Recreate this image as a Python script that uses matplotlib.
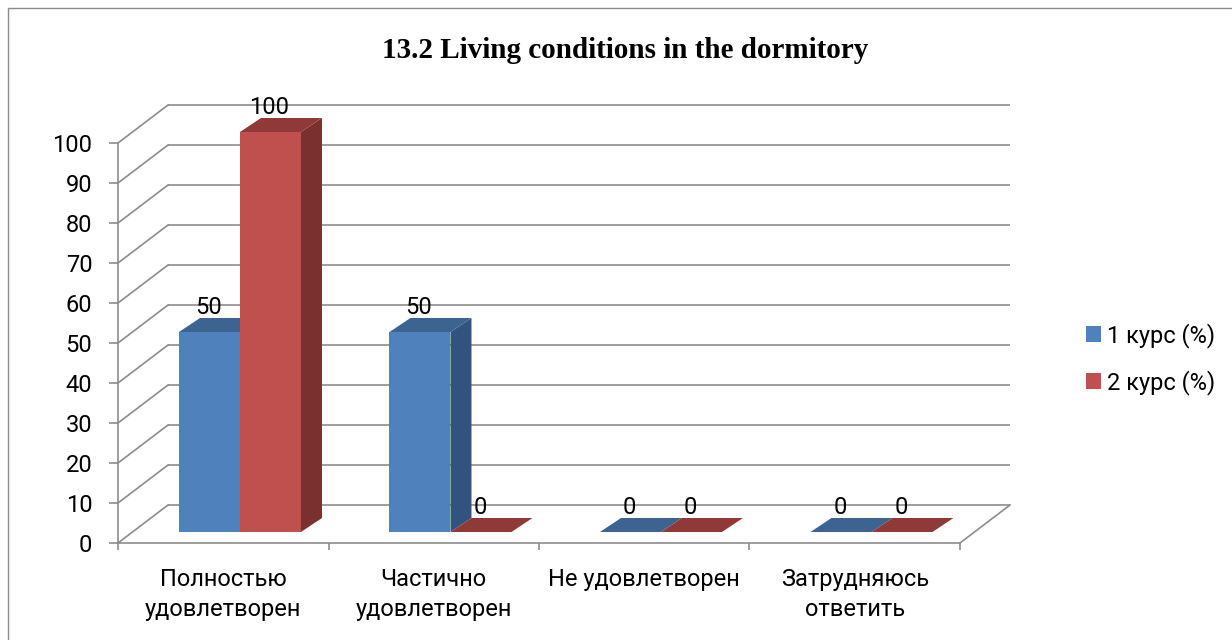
import matplotlib
matplotlib.use("Agg")
import matplotlib.pyplot as plt
from matplotlib.patches import Polygon, Patch, Rectangle

# ---------------- data ----------------
categories = ["Полностью\nудовлетворен", "Частично\nудовлетворен",
              "Не удовлетворен", "Затрудняюсь\nответить"]
series_names = ["1 курс (%)", "2 курс (%)"]
course1 = [50, 50, 0, 0]
course2 = [100, 0, 0, 0]
y_ticks = [0, 10, 20, 30, 40, 50, 60, 70, 80, 90, 100]
title = "13.2 Living conditions in the dormitory"

# ---------------- style ----------------
W, H, DPI = 1232, 640, 100
FONT = ["Roboto", "DejaVu Sans"]
FS = 17
GRID = "#8c8c8c"
front_cols = ["#4F81BD", "#C0504D"]
top_cols = ["#3D6491", "#8F3A38"]
side_cols = ["#32537D", "#7A302E"]

PX_CAT = 210.5          # pixels per category
PX_UNIT = 4.0           # pixels per value unit
X0, Y0 = 118, 543       # pixel of origin
X1, Y1 = 1013, 100      # pixel of top-right of axes
DX, DY = 50 / PX_CAT, 38 / PX_UNIT          # wall depth
BDX, BDY = 21 / PX_CAT, 14 / PX_UNIT        # bar depth
F0 = 11 / 38                                 # bar front depth fraction
BAR_START = 46.5 / PX_CAT
BAR_W = 61 / PX_CAT

fig = plt.figure(figsize=(W / DPI, H / DPI), dpi=DPI)
fig.patch.set_facecolor("white")
ax = fig.add_axes([X0 / W, (H - Y0) / H, (X1 - X0) / W, (Y0 - Y1) / H])
ax.set_xlim(0, (X1 - X0) / PX_CAT)
ax.set_ylim(0, (Y0 - Y1) / PX_UNIT)
ax.patch.set_visible(False)

n = len(categories)
# back wall gridlines and left wall diagonals
for v in y_ticks:
    ax.plot([DX, n + DX], [v + DY, v + DY], color=GRID, lw=1.2, zorder=1,
            clip_on=False, solid_capstyle="butt")
    ax.plot([0, DX], [v, v + DY], color=GRID, lw=1.2, zorder=1, clip_on=False)
# floor right edge
ax.plot([n, n + DX], [0, DY], color=GRID, lw=1.2, zorder=1, clip_on=False)

# spines / ticks
for s in ["top", "right"]:
    ax.spines[s].set_visible(False)
ax.spines["left"].set_bounds(0, 100)
ax.spines["bottom"].set_bounds(0, n)
for s in ["left", "bottom"]:
    ax.spines[s].set_color(GRID)
    ax.spines[s].set_linewidth(1.2)
ax.set_yticks(y_ticks)
ax.set_yticklabels([str(t) for t in y_ticks], fontfamily=FONT, fontsize=FS)
ax.tick_params(axis="y", length=6.5, width=1.2, color=GRID, pad=12)
ax.set_xticks(range(n + 1))
ax.set_xticklabels([""] * (n + 1))
ax.set_xticks([i + 0.5 for i in range(n)], minor=True)
ax.set_xticklabels(categories, minor=True, fontfamily=FONT, fontsize=FS,
                   linespacing=1.4)
ax.tick_params(axis="x", which="major", length=5, width=1.2, color=GRID)
ax.tick_params(axis="x", which="minor", length=0, pad=18)


def draw_bar(x, v, k, z):
    xf = x + F0 * DX
    yf = F0 * DY
    # side
    ax.add_patch(Polygon([(xf + BAR_W, yf), (xf + BAR_W + BDX, yf + BDY),
                          (xf + BAR_W + BDX, yf + BDY + v), (xf + BAR_W, yf + v)],
                         closed=True, fc=side_cols[k], ec="none", zorder=z, clip_on=False))
    # top
    ax.add_patch(Polygon([(xf, yf + v), (xf + BAR_W, yf + v),
                          (xf + BAR_W + BDX, yf + v + BDY), (xf + BDX, yf + v + BDY)],
                         closed=True, fc=top_cols[k], ec="none", zorder=z, clip_on=False))
    # front
    if v > 0:
        ax.add_patch(Rectangle((xf, yf), BAR_W, v, fc=front_cols[k], ec="none",
                               zorder=z, clip_on=False))
    ax.text(xf + BAR_W / 2 - 0.005, yf + v + BDY + 0.9, str(v), ha="center",
            va="baseline", fontfamily=FONT, fontsize=FS, zorder=10)


z = 3
for i in range(n):
    for k, vals in enumerate([course1, course2]):
        draw_bar(i + BAR_START + k * BAR_W, vals[i], k, z)
        z += 1

# title
fig.text(625 / W, 1 - 58 / H, title, ha="center", va="baseline",
         fontfamily="Liberation Serif", fontweight="bold", fontsize=21)

# legend
handles = [Patch(fc=c, ec="none") for c in front_cols]
leg = fig.legend(handles, series_names, loc="center left",
                 bbox_to_anchor=(1086 / W, 1 - 359 / H), frameon=False,
                 prop={"family": FONT, "size": FS}, handlelength=0.64,
                 handleheight=0.64, handletextpad=0.27, labelspacing=0.95,
                 borderpad=0, borderaxespad=0)

# outer border
fig.patches.append(Rectangle((8 / W, -0.1), 1.2, 1 - 8 / H + 0.1, transform=fig.transFigure,
                             fill=False, ec="#8c8c8c", lw=1.0))

fig.savefig("out.png", dpi=DPI)
